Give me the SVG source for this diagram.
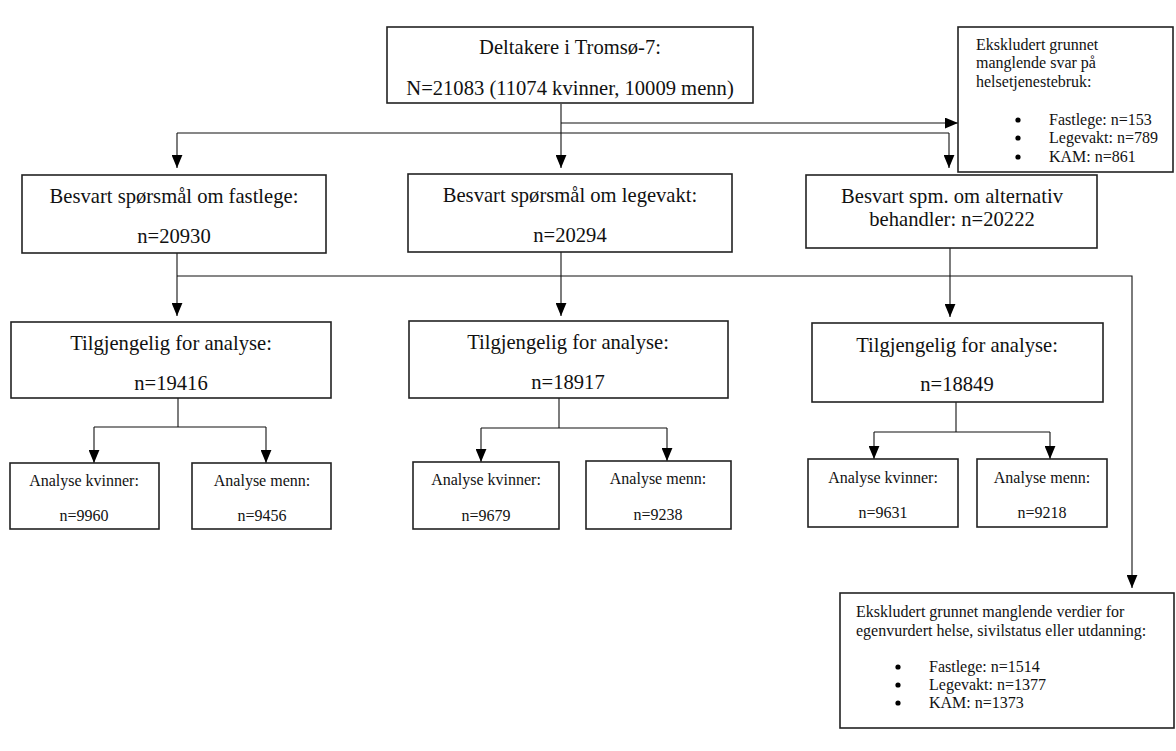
<svg xmlns="http://www.w3.org/2000/svg" width="1176" height="751" viewBox="0 0 1176 751">
<style>
.box{fill:#fff;stroke:#222;stroke-width:1.6}
.ln{fill:none;stroke:#111;stroke-width:1.1}
text{font-family:"Liberation Serif","Times New Roman",serif;fill:#111}
.t20{font-size:20.6px;text-anchor:middle}
.t16{font-size:16px;text-anchor:middle}
.l16{font-size:16px}
</style>
<defs>
<marker id="ah" viewBox="0 0 12 10" refX="12" refY="5" markerWidth="13" markerHeight="11" markerUnits="userSpaceOnUse" orient="auto">
<path d="M0,0 L12,5 L0,10 z" fill="#000"/>
</marker>
</defs>
<rect width="1176" height="751" fill="#fff"/>
<g id="connectors">
<path class="ln" d="M561,104 V133"/>
<path class="ln" d="M561,123 H958" marker-end="url(#ah)"/>
<path class="ln" d="M177,133 H949"/>
<path class="ln" d="M177,133 V168" marker-end="url(#ah)"/>
<path class="ln" d="M561,133 V168" marker-end="url(#ah)"/>
<path class="ln" d="M949,133 V168" marker-end="url(#ah)"/>
<path class="ln" d="M177,253 V316" marker-end="url(#ah)"/>
<path class="ln" d="M177,276 H1132 V588" marker-end="url(#ah)"/>
<path class="ln" d="M561,252 V316" marker-end="url(#ah)"/>
<path class="ln" d="M950,248 V317" marker-end="url(#ah)"/>
<path class="ln" d="M178,398 V427"/>
<path class="ln" d="M94,427 H266"/>
<path class="ln" d="M94,427 V463" marker-end="url(#ah)"/>
<path class="ln" d="M266,427 V463" marker-end="url(#ah)"/>
<path class="ln" d="M559,398 V428"/>
<path class="ln" d="M481,428 H667"/>
<path class="ln" d="M481,428 V462" marker-end="url(#ah)"/>
<path class="ln" d="M667,428 V461" marker-end="url(#ah)"/>
<path class="ln" d="M956,402 V432"/>
<path class="ln" d="M874,432 H1050"/>
<path class="ln" d="M874,432 V459" marker-end="url(#ah)"/>
<path class="ln" d="M1050,432 V459" marker-end="url(#ah)"/>
</g>
<g id="top">
<rect class="box" x="387" y="27" width="366" height="76"/>
<text class="t20" x="570" y="54">Deltakere i Tromsø-7:</text>
<text class="t20" x="570" y="95">N=21083 (11074 kvinner, 10009 menn)</text>
</g>
<g id="excl1">
<rect class="box" x="958" y="27" width="215" height="145"/>
<text class="l16" x="976" y="50">Ekskludert grunnet</text>
<text class="l16" x="976" y="68">manglende svar på</text>
<text class="l16" x="976" y="87">helsetjenestebruk:</text>
<circle cx="1018" cy="120" r="2.6" fill="#000"/>
<circle cx="1018" cy="138" r="2.6" fill="#000"/>
<circle cx="1018" cy="157" r="2.6" fill="#000"/>
<text class="l16" x="1049" y="125">Fastlege: n=153</text>
<text class="l16" x="1049" y="143">Legevakt: n=789</text>
<text class="l16" x="1049" y="162">KAM: n=861</text>
</g>
<g id="besvart-fastlege">
<rect class="box" x="22" y="175" width="304" height="78"/>
<text class="t20" x="174" y="203">Besvart spørsmål om fastlege:</text>
<text class="t20" x="174" y="243">n=20930</text>
</g>
<g id="besvart-legevakt">
<rect class="box" x="408" y="174" width="324" height="78"/>
<text class="t20" x="570" y="202">Besvart spørsmål om legevakt:</text>
<text class="t20" x="570" y="242">n=20294</text>
</g>
<g id="besvart-alt">
<rect class="box" x="806" y="175" width="291" height="73"/>
<text class="t20" x="952" y="203">Besvart spm. om alternativ</text>
<text class="t20" x="952" y="226">behandler: n=20222</text>
</g>
<g id="tilg-1">
<rect class="box" x="11" y="322" width="320" height="76"/>
<text class="t20" x="171" y="350">Tilgjengelig for analyse:</text>
<text class="t20" x="171" y="390">n=19416</text>
</g>
<g id="tilg-2">
<rect class="box" x="409" y="321" width="319" height="77"/>
<text class="t20" x="568" y="349">Tilgjengelig for analyse:</text>
<text class="t20" x="568" y="389">n=18917</text>
</g>
<g id="tilg-3">
<rect class="box" x="812" y="323" width="291" height="79"/>
<text class="t20" x="957" y="352">Tilgjengelig for analyse:</text>
<text class="t20" x="957" y="391">n=18849</text>
</g>
<g id="kv-1">
<rect class="box" x="10" y="463" width="149" height="66"/>
<text class="t16" x="84" y="486">Analyse kvinner:</text>
<text class="t16" x="84" y="521">n=9960</text>
</g>
<g id="menn-1">
<rect class="box" x="192" y="463" width="139" height="66"/>
<text class="t16" x="262" y="486">Analyse menn:</text>
<text class="t16" x="262" y="521">n=9456</text>
</g>
<g id="kv-2">
<rect class="box" x="413" y="462" width="146" height="67"/>
<text class="t16" x="486" y="485">Analyse kvinner:</text>
<text class="t16" x="486" y="521">n=9679</text>
</g>
<g id="menn-2">
<rect class="box" x="586" y="461" width="145" height="68"/>
<text class="t16" x="658" y="484">Analyse menn:</text>
<text class="t16" x="658" y="520">n=9238</text>
</g>
<g id="kv-3">
<rect class="box" x="808" y="459" width="150" height="68"/>
<text class="t16" x="883" y="483">Analyse kvinner:</text>
<text class="t16" x="883" y="518">n=9631</text>
</g>
<g id="menn-3">
<rect class="box" x="977" y="459" width="130" height="68"/>
<text class="t16" x="1042" y="483">Analyse menn:</text>
<text class="t16" x="1042" y="518">n=9218</text>
</g>
<g id="excl2">
<rect class="box" x="840" y="593" width="334" height="135"/>
<text class="l16" x="856" y="617">Ekskludert grunnet manglende verdier for</text>
<text class="l16" x="856" y="636">egenvurdert helse, sivilstatus eller utdanning:</text>
<circle cx="898" cy="667" r="2.6" fill="#000"/>
<circle cx="898" cy="685" r="2.6" fill="#000"/>
<circle cx="898" cy="703" r="2.6" fill="#000"/>
<text class="l16" x="929" y="672">Fastlege: n=1514</text>
<text class="l16" x="929" y="690">Legevakt: n=1377</text>
<text class="l16" x="929" y="708">KAM: n=1373</text>
</g>
</svg>
